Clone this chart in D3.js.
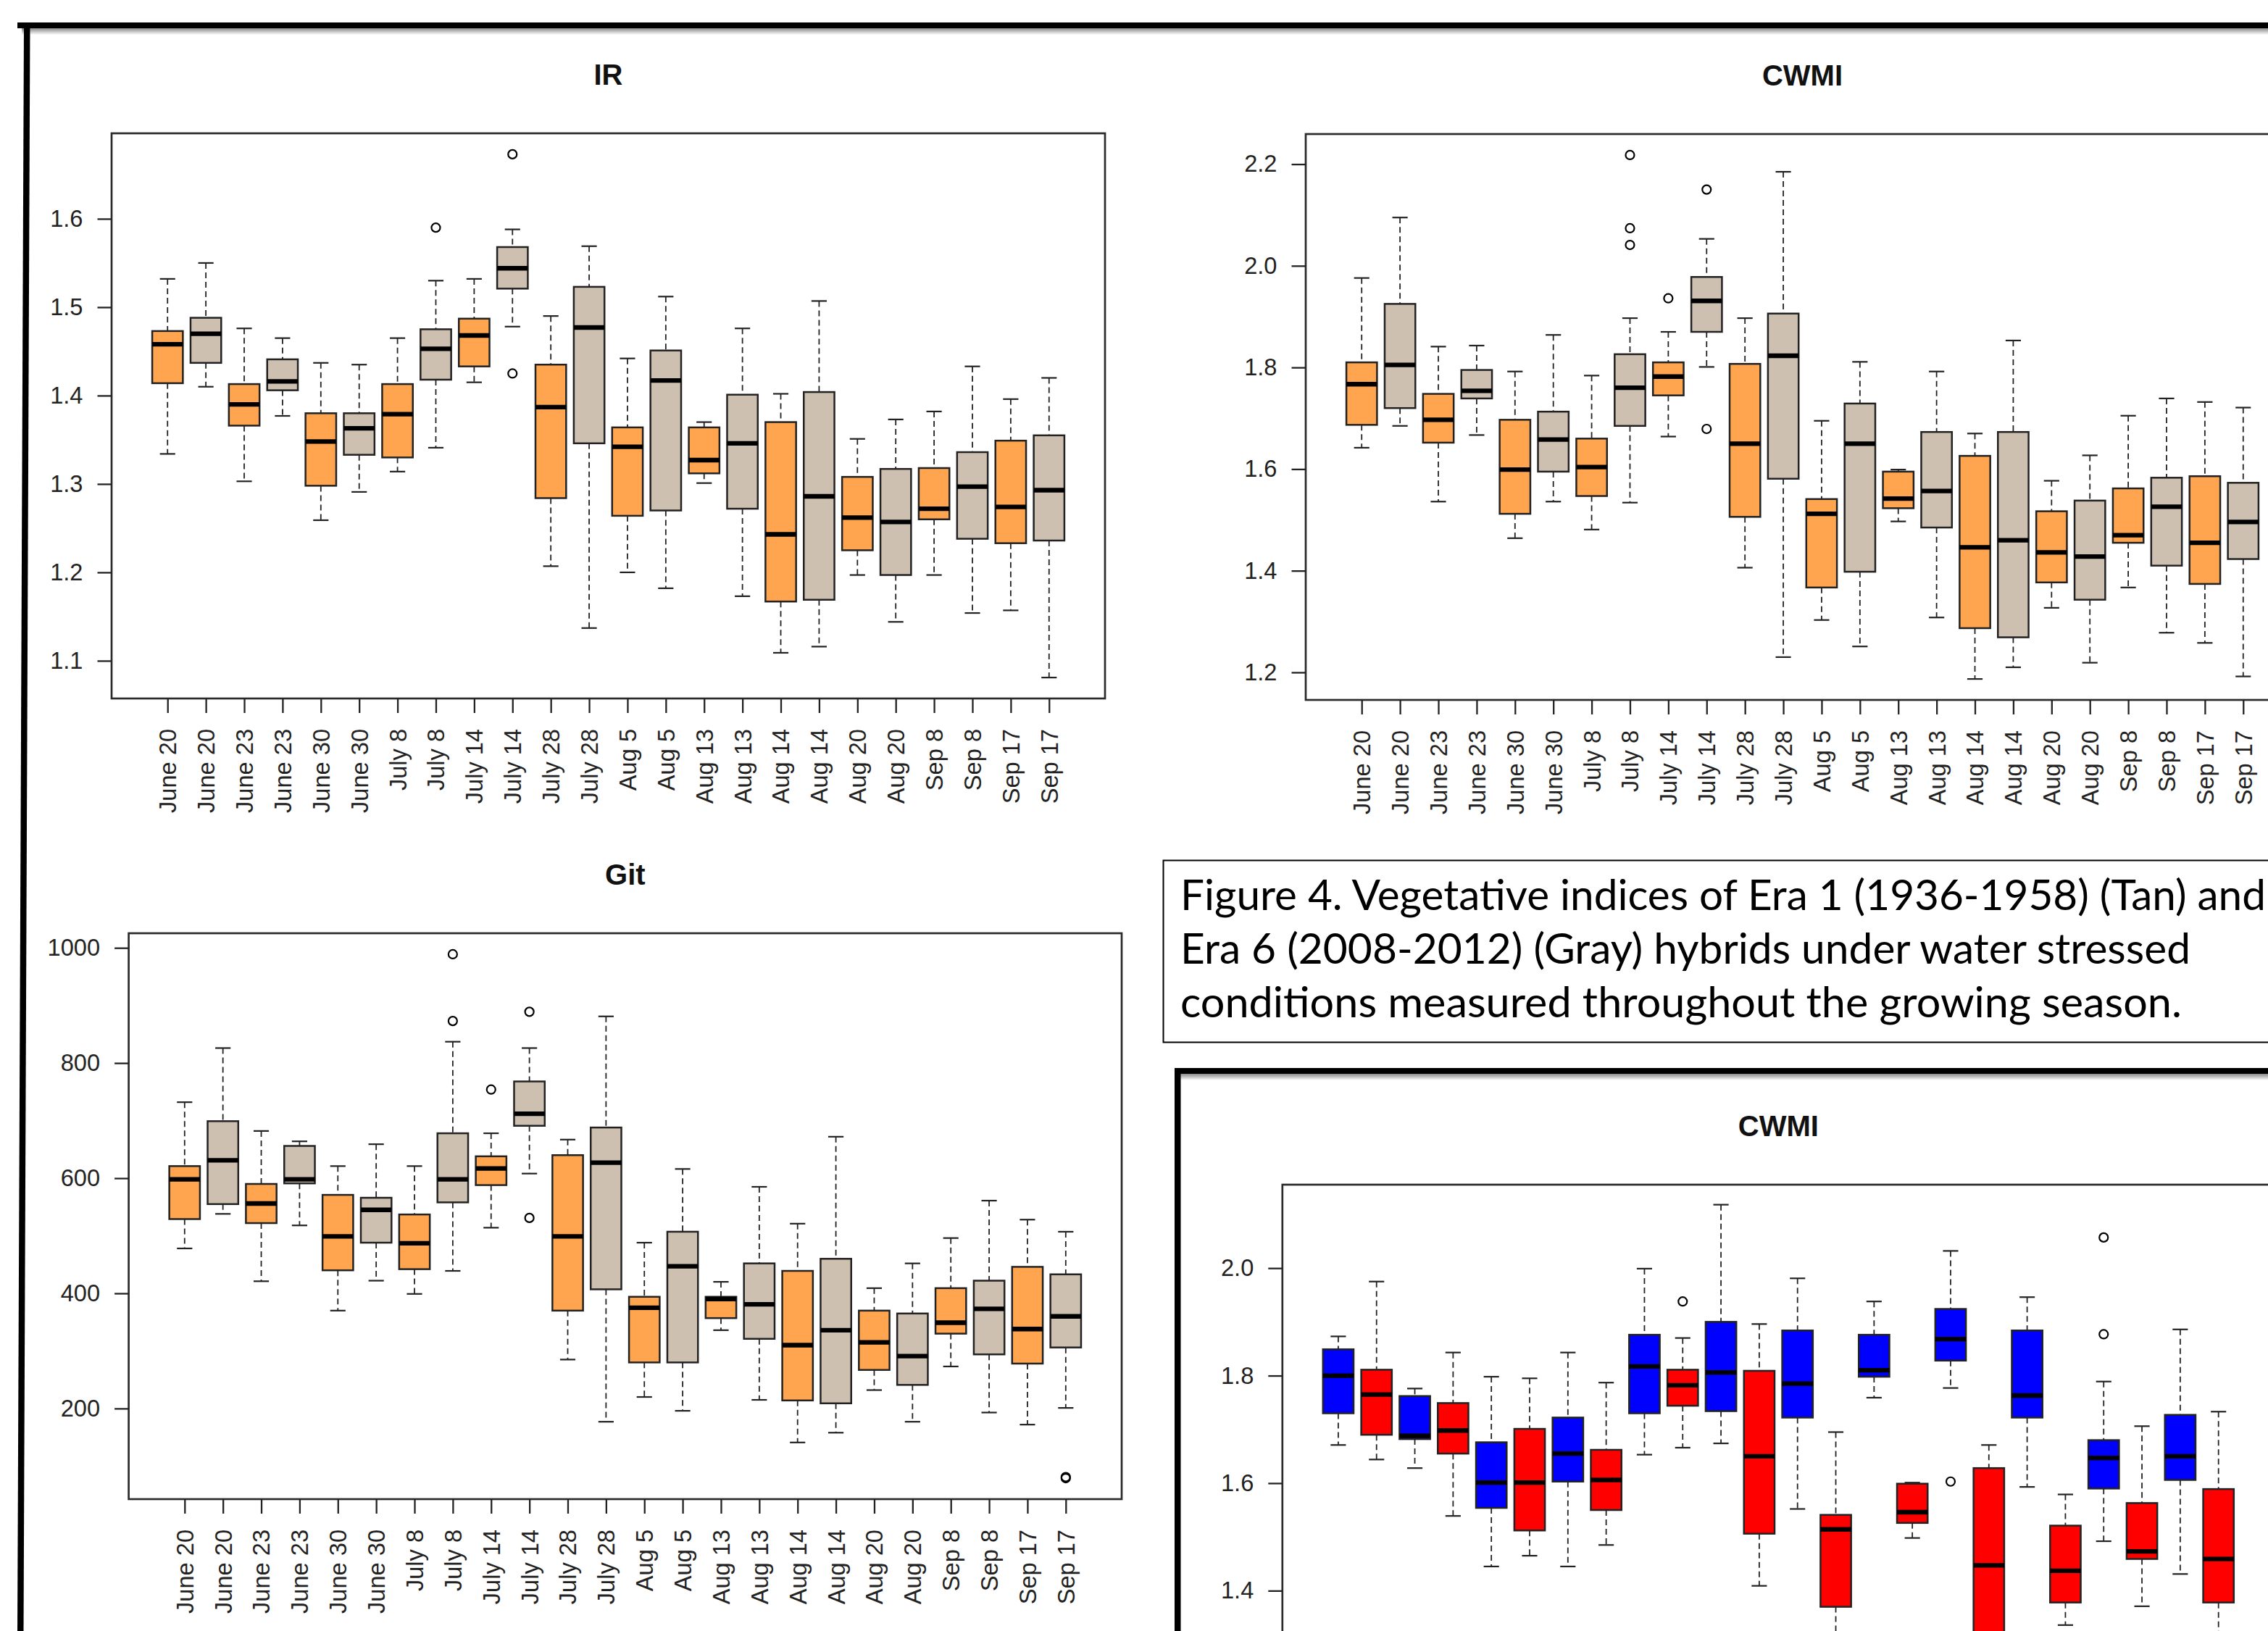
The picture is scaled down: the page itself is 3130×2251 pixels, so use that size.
<!DOCTYPE html>
<html>
<head>
<meta charset="utf-8">
<script src="https://cdn.jsdelivr.net/npm/d3@7"></script>
<style>
  body { margin: 0; background: #fff; }
  svg { display: block; }
</style>
</head>
<body>
<script>
// sampling dates, two hybrids per date
const dates = ["June 20","June 20","June 23","June 23","June 30","June 30","July 8","July 8",
  "July 14","July 14","July 28","July 28","Aug 5","Aug 5","Aug 13","Aug 13","Aug 14","Aug 14",
  "Aug 20","Aug 20","Sep 8","Sep 8","Sep 17","Sep 17"];

const eraFill = ["#FFA54F", "#CDC0B0"];
const waterFill = ["#0000FF", "#FF0000"];

// [lower whisker, Q1, median, Q3, upper whisker]
const irStats = [
  [1.334,1.414,1.458,1.473,1.532],[1.410,1.437,1.470,1.488,1.550],
  [1.303,1.366,1.390,1.413,1.476],[1.377,1.406,1.416,1.441,1.465],
  [1.259,1.298,1.348,1.380,1.437],[1.291,1.333,1.363,1.380,1.435],
  [1.314,1.330,1.379,1.413,1.465],[1.341,1.418,1.453,1.475,1.530],
  [1.415,1.433,1.468,1.487,1.532],[1.478,1.521,1.544,1.568,1.588],
  [1.207,1.284,1.387,1.435,1.490],[1.137,1.346,1.477,1.523,1.569],
  [1.200,1.264,1.342,1.364,1.442],[1.182,1.270,1.417,1.451,1.512],
  [1.301,1.312,1.327,1.364,1.370],[1.173,1.272,1.346,1.401,1.476],
  [1.109,1.167,1.243,1.370,1.402],[1.116,1.169,1.286,1.404,1.507],
  [1.197,1.225,1.262,1.308,1.351],[1.144,1.197,1.257,1.317,1.373],
  [1.197,1.260,1.272,1.318,1.382],[1.154,1.238,1.297,1.336,1.433],
  [1.157,1.233,1.274,1.349,1.396],[1.081,1.236,1.293,1.355,1.420]
];
const irOutliers = [[8, 1.590], [10, 1.673], [10, 1.425]];
const irTicks = [1.1, 1.2, 1.3, 1.4, 1.5, 1.6];

const cwmiStats = [
  [1.642,1.687,1.767,1.810,1.976],[1.685,1.720,1.805,1.925,2.095],
  [1.536,1.652,1.697,1.748,1.841],[1.667,1.739,1.754,1.795,1.843],
  [1.464,1.512,1.599,1.697,1.792],[1.536,1.595,1.658,1.713,1.864],
  [1.481,1.547,1.604,1.660,1.784],[1.534,1.685,1.760,1.826,1.897],
  [1.664,1.745,1.782,1.810,1.870],[1.801,1.870,1.931,1.978,2.053],
  [1.406,1.506,1.650,1.807,1.897],[1.230,1.581,1.823,1.906,2.185],
  [1.303,1.367,1.512,1.541,1.695],[1.251,1.398,1.650,1.729,1.811],
  [1.497,1.523,1.542,1.595,1.599],[1.308,1.485,1.557,1.673,1.792],
  [1.187,1.287,1.446,1.626,1.670],[1.210,1.269,1.460,1.673,1.853],
  [1.327,1.377,1.436,1.517,1.577],[1.219,1.343,1.428,1.538,1.627],
  [1.367,1.455,1.470,1.562,1.705],[1.278,1.410,1.526,1.583,1.739],
  [1.258,1.374,1.455,1.586,1.732],[1.192,1.423,1.496,1.573,1.721]
];
const cwmiOutliers = [[8, 2.218], [8, 2.074], [8, 2.041], [9, 1.936], [10, 2.150], [10, 1.679]];
const cwmiTicks = [1.2, 1.4, 1.6, 1.8, 2.0, 2.2];

const gitStats = [
  [478,529,598,621,732],[538,555,631,699,826],
  [421,522,556,590,682],[518,591,598,656,664],
  [370,440,499,571,621],[422,488,545,566,659],
  [399,442,487,537,621],[439,558,598,678,837],
  [514,588,617,638,678],[608,691,712,768,826],
  [285,370,499,640,667],[177,407,627,688,881],
  [220,280,375,394,488],[196,280,447,507,616],
  [336,357,390,394,420],[215,321,381,452,585],
  [141,214,310,439,521],[158,209,336,460,672],
  [232,267,315,370,409],[177,241,291,365,452],
  [273,330,349,409,496],[193,294,373,422,561],
  [172,278,338,446,528],[201,306,360,433,507]
];
const gitOutliers = [[8, 989], [8, 873], [9, 754], [10, 889], [10, 531], [24, 79], [24, 81]];
const gitTicks = [200, 400, 600, 800, 1000];

const cwmi2Stats = [
  [1.671,1.730,1.800,1.849,1.873],[1.644,1.690,1.765,1.811,1.975],
  [1.628,1.682,1.688,1.762,1.776],[1.539,1.655,1.698,1.749,1.843],
  [1.445,1.554,1.601,1.676,1.798],[1.465,1.512,1.601,1.701,1.795],
  [1.445,1.603,1.655,1.722,1.843],[1.485,1.550,1.606,1.662,1.787],
  [1.653,1.730,1.817,1.876,1.999],[1.666,1.744,1.782,1.811,1.870],
  [1.674,1.734,1.806,1.900,2.118],[1.409,1.506,1.650,1.809,1.896],
  [1.552,1.722,1.785,1.884,1.981],[1.300,1.370,1.514,1.541,1.695],
  [1.759,1.798,1.810,1.876,1.938],[1.498,1.526,1.546,1.599,1.601],
  [1.777,1.828,1.868,1.924,2.032],[1.187,1.287,1.447,1.628,1.671],
  [1.593,1.722,1.763,1.884,1.946],[1.336,1.378,1.437,1.521,1.579],
  [1.492,1.590,1.647,1.680,1.789],[1.371,1.459,1.473,1.563,1.706],
  [1.431,1.606,1.650,1.727,1.886],[1.260,1.378,1.459,1.589,1.733]
];
const cwmi2Outliers = [[10, 1.938], [17, 1.603], [21, 2.057], [21, 1.877]];
const cwmi2Ticks = [1.2, 1.4, 1.6, 1.8, 2.0];

const captionLines = [
  "Figure 4. Vegetative indices of Era 1 (1936-1958) (Tan) and",
  "Era 6 (2008-2012) (Gray) hybrids under water stressed",
  "conditions measured throughout the growing season."
];

const W = 3130, H = 2251;
const rFont = "'Liberation Sans', Arial, sans-serif";

const svg = d3.select("body").append("svg")
  .attr("width", W)
  .attr("height", H);

const defs = svg.append("defs");
const shade = defs.append("linearGradient")
  .attr("id", "shade").attr("x1", 0).attr("y1", 0).attr("x2", 0).attr("y2", 1);
shade.append("stop").attr("offset", "0%").attr("stop-color", "#8a8a8a");
shade.append("stop").attr("offset", "100%").attr("stop-color", "#fff");

// page frames (slide decoration)
svg.append("rect").attr("x", 30).attr("y", 39).attr("width", W).attr("height", 9).attr("fill", "url(#shade)");
svg.append("rect").attr("x", 24).attr("y", 31).attr("width", W).attr("height", 8).attr("fill", "#000");
svg.append("polygon").attr("points", "33,31 41.5,31 32.5,2251 24,2251").attr("fill", "#000");

svg.append("rect").attr("x", 1629).attr("y", 1482).attr("width", W).attr("height", 9).attr("fill", "url(#shade)");
svg.append("rect").attr("x", 1621).attr("y", 1474).attr("width", W).attr("height", 8).attr("fill", "#000");
svg.append("rect").attr("x", 1621).attr("y", 1474).attr("width", 8.5).attr("height", H).attr("fill", "#000");

// caption box
svg.append("rect")
  .attr("x", 1605.5).attr("y", 1187.5)
  .attr("width", 1700).attr("height", 251)
  .attr("fill", "#fff").attr("stroke", "#000").attr("stroke-width", 2);
const capWidths = [1498, 1394, 1382];
svg.append("g").selectAll("text")
  .data(captionLines)
  .enter()
  .append("text")
  .attr("x", 1629)
  .attr("y", (d, i) => 1256 + i * 74)
  .attr("textLength", (d, i) => capWidths[i])
  .attr("lengthAdjust", "spacingAndGlyphs")
  .attr("font-family", "Lato, 'Open Sans', sans-serif")
  .attr("font-size", 59)
  .attr("fill", "#000")
  .text(d => d);

function drawPanel(p) {
  const all = p.stats.flat().concat(p.outliers.map(d => d[1]));
  const lo = d3.min(all), hi = d3.max(all), pad = (hi - lo) * 0.04;
  const n = p.stats.length;
  const x = d3.scaleLinear()
    .domain([0.5 - 0.04 * n, n + 0.5 + 0.04 * n])
    .range([p.left, p.left + p.width]);
  const y = d3.scaleLinear()
    .domain([lo - pad, hi + pad])
    .range([p.top + p.height, p.top]);
  const half = x(1.4) - x(1);
  const cap = half / 2;
  const g = svg.append("g");

  const boxes = g.selectAll(".box")
    .data(p.stats)
    .enter()
    .append("g")
    .attr("class", "box")
    .attr("transform", (d, i) => "translate(" + x(i + 1) + ",0)");

  // whiskers
  boxes.append("line")
    .attr("y1", d => y(d[4])).attr("y2", d => y(d[3]))
    .attr("stroke", "#222").attr("stroke-width", 1.8).attr("stroke-dasharray", "8,5");
  boxes.append("line")
    .attr("y1", d => y(d[1])).attr("y2", d => y(d[0]))
    .attr("stroke", "#222").attr("stroke-width", 1.8).attr("stroke-dasharray", "8,5");
  boxes.append("line")
    .attr("x1", -cap).attr("x2", cap)
    .attr("y1", d => y(d[4])).attr("y2", d => y(d[4]))
    .attr("stroke", "#222").attr("stroke-width", 2.2);
  boxes.append("line")
    .attr("x1", -cap).attr("x2", cap)
    .attr("y1", d => y(d[0])).attr("y2", d => y(d[0]))
    .attr("stroke", "#222").attr("stroke-width", 2.2);

  boxes.append("rect")
    .attr("x", -half)
    .attr("y", d => y(d[3]))
    .attr("width", half * 2)
    .attr("height", d => y(d[1]) - y(d[3]))
    .attr("fill", (d, i) => p.fills[i % 2])
    .attr("stroke", "#222")
    .attr("stroke-width", 2.5);

  boxes.append("line")
    .attr("x1", -half).attr("x2", half)
    .attr("y1", d => y(d[2])).attr("y2", d => y(d[2]))
    .attr("stroke", "#000").attr("stroke-width", 6.3);

  g.selectAll(".out")
    .data(p.outliers)
    .enter()
    .append("circle")
    .attr("cx", d => x(d[0]))
    .attr("cy", d => y(d[1]))
    .attr("r", 6)
    .attr("fill", "none")
    .attr("stroke", "#000")
    .attr("stroke-width", 2.2);

  // plot frame
  g.append("rect")
    .attr("x", p.left).attr("y", p.top)
    .attr("width", p.width).attr("height", p.height)
    .attr("fill", "none").attr("stroke", "#2b2b2b").attr("stroke-width", 2.7);

  const yAxis = d3.axisLeft(y)
    .tickValues(p.ticks)
    .tickFormat(p.fmt)
    .tickSize(19.5)
    .tickPadding(20);
  g.append("g")
    .attr("transform", "translate(" + p.left + ",0)")
    .call(yAxis)
    .call(a => a.select(".domain").remove())
    .attr("color", "#222")
    .attr("font-family", rFont)
    .attr("font-size", 32.6)
    .call(a => a.selectAll("line").attr("stroke-width", 2.3));

  const xAxis = d3.axisBottom(x)
    .tickValues(d3.range(1, n + 1))
    .tickFormat(i => dates[i - 1])
    .tickSize(20);
  g.append("g")
    .attr("transform", "translate(0," + (p.top + p.height) + ")")
    .call(xAxis)
    .call(a => a.select(".domain").remove())
    .attr("color", "#222")
    .attr("font-family", rFont)
    .attr("font-size", 32.6)
    .call(a => a.selectAll("line").attr("stroke-width", 2.3))
    .call(a => a.selectAll("text")
      .attr("transform", "rotate(-90)")
      .attr("text-anchor", "end")
      .attr("x", -42)
      .attr("y", 0)
      .attr("dy", "0.35em"));

  g.append("text")
    .attr("x", p.left + p.width / 2)
    .attr("y", p.top - 67)
    .attr("text-anchor", "middle")
    .attr("font-family", rFont)
    .attr("font-weight", "bold")
    .attr("font-size", 40)
    .attr("fill", "#111")
    .text(p.title);
}

drawPanel({ title: "IR", left: 154, top: 184, width: 1371, height: 780,
  stats: irStats, outliers: irOutliers, ticks: irTicks, fmt: d3.format(".1f"), fills: eraFill });
drawPanel({ title: "CWMI", left: 1802, top: 185, width: 1371, height: 781,
  stats: cwmiStats, outliers: cwmiOutliers, ticks: cwmiTicks, fmt: d3.format(".1f"), fills: eraFill });
drawPanel({ title: "Git", left: 177.6, top: 1288, width: 1370.4, height: 781,
  stats: gitStats, outliers: gitOutliers, ticks: gitTicks, fmt: d3.format("d"), fills: eraFill });
drawPanel({ title: "CWMI", left: 1769.8, top: 1635, width: 1369, height: 746,
  stats: cwmi2Stats, outliers: cwmi2Outliers, ticks: cwmi2Ticks, fmt: d3.format(".1f"), fills: waterFill });
</script>
</body>
</html>
